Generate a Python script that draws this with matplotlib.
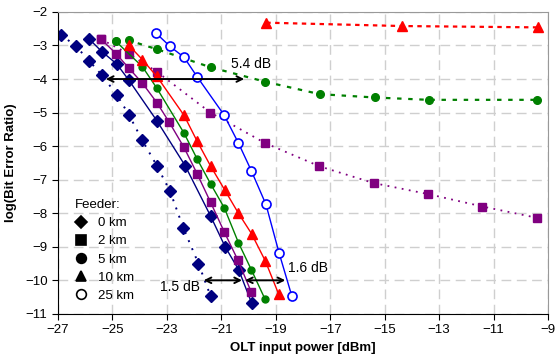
import numpy as np
import matplotlib.pyplot as plt
from matplotlib.lines import Line2D

plt.rcParams['font.family'] = ['Liberation Sans', 'DejaVu Sans']

# solid curves (feeder lengths)
x0 = [-25.85, -25.39, -24.84, -24.39, -23.37, -22.33, -21.39, -20.86, -20.36, -19.89]
y0 = [-2.81, -3.18, -3.55, -4.04, -5.24, -6.58, -8.09, -9.0, -9.69, -10.67]
x2 = [-25.42, -24.87, -24.39, -23.90, -23.37, -22.91, -22.37, -21.89, -21.39, -20.89, -20.39, -19.90]
y2 = [-2.81, -3.24, -3.68, -4.12, -4.70, -5.29, -6.04, -6.82, -7.68, -8.56, -9.40, -10.35]
x5 = [-24.87, -23.90, -23.37, -22.37, -21.89, -21.39, -20.89, -20.37, -19.90, -19.39]
y5 = [-2.88, -3.63, -4.27, -5.61, -6.38, -7.13, -7.84, -8.88, -9.68, -10.57]
x10 = [-24.39, -23.90, -23.37, -22.37, -21.89, -21.39, -20.88, -20.38, -19.89, -19.38, -18.89]
y10 = [-3.00, -3.42, -3.92, -5.08, -5.85, -6.60, -7.30, -7.99, -8.61, -9.43, -10.42]
x25 = [-23.40, -22.88, -22.37, -21.89, -20.90, -20.37, -19.90, -19.36, -18.88, -18.41]
y25 = [-2.63, -3.03, -3.35, -3.93, -5.07, -5.91, -6.73, -7.74, -9.18, -10.47]

# dotted curves
x0d = [-26.89, -26.35, -25.86, -25.39, -24.84, -24.39, -23.90, -23.37, -22.88, -22.39, -21.84, -21.39]
y0d = [-2.68, -3.01, -3.45, -3.88, -4.47, -5.07, -5.83, -6.58, -7.35, -8.45, -9.50, -10.48]
x2d = [-25.43, -24.39, -23.37, -21.40, -19.39, -17.40, -15.41, -13.40, -11.41, -9.39]
y2d = [-2.81, -3.25, -3.78, -5.00, -5.91, -6.60, -7.10, -7.43, -7.80, -8.14]
x5d = [-24.87, -24.39, -23.37, -21.39, -19.39, -17.39, -15.37, -13.39, -9.39]
y5d = [-2.88, -2.85, -3.11, -3.65, -4.08, -4.45, -4.55, -4.62, -4.62]
x10d = [-19.35, -14.36, -9.38]
y10d = [-2.32, -2.42, -2.46]

fig = plt.figure(figsize=(5.57, 3.62), dpi=100)
ax = fig.add_axes([0.104, 0.133, 0.88, 0.834])

ax.plot(x0d, y0d, color='#000080', ls=(0, (1, 3.5)), lw=1.4, marker='D', ms=6)
ax.plot(x2d, y2d, color='#800080', ls=(0, (1, 3)), lw=1.3, marker='s', ms=5.5)
ax.plot(x5d, y5d, color='#008000', ls=(0, (2, 3)), lw=1.6, marker='o', ms=5.5)
ax.plot(x10d, y10d, color='#FF0000', ls=(0, (2, 2)), lw=1.6, marker='^', ms=6.5)

ax.plot(x0, y0, color='#000080', lw=1, marker='D', ms=6)
ax.plot(x2, y2, color='#800080', lw=1, marker='s', ms=5.5)
ax.plot(x5, y5, color='#008000', lw=1, marker='o', ms=5)
ax.plot(x10, y10, color='#FF0000', lw=1, marker='^', ms=6.5)
ax.plot(x25, y25, color='#0000FF', lw=1, marker='o', ms=6.5, mfc='white', mew=1.2)

arr = dict(arrowstyle='<->', color='black', lw=1.4, shrinkA=0, shrinkB=0)
ax.annotate('', xy=(-25.24, -4.0), xytext=(-20.16, -4.0), arrowprops=arr)
ax.annotate('', xy=(-21.65, -10.0), xytext=(-20.24, -10.0), arrowprops=arr)
ax.annotate('', xy=(-20.13, -10.0), xytext=(-18.65, -10.0), arrowprops=arr)
ax.text(-19.9, -3.55, '5.4 dB', fontsize=10, ha='center', va='center')
ax.text(-22.5, -10.2, '1.5 dB', fontsize=10, ha='center', va='center')
ax.text(-17.8, -9.62, '1.6 dB', fontsize=10, ha='center', va='center')

ax.set_xlim(-27, -9)
ax.set_ylim(-11, -2)
ax.set_xticks(np.arange(-27, -8, 2))
ax.set_yticks(np.arange(-11, -1, 1))
ax.grid(True, color='#cfcfcf', ls=(0, (7, 4)), lw=1)
ax.tick_params(labelsize=9.5, direction='out', length=4)
for s in ['top', 'right']:
    ax.spines[s].set_color('#999999')
ax.set_xlabel('OLT input power [dBm]', fontsize=9.5, fontweight='bold')
ax.set_ylabel('log(Bit Error Ratio)', fontsize=9.5, fontweight='bold', labelpad=6)

handles = [Line2D([], [], color='black', ls='none', marker=m, ms=s, mfc=f, mew=1.2)
           for m, s, f in [('D', 6.5, 'black'), ('s', 6.5, 'black'), ('o', 7, 'black'),
                           ('^', 7.5, 'black'), ('o', 7, 'white')]]
labels = ['0 km', '2 km', '5 km', '10 km', '25 km']
leg = ax.legend(handles, labels, title='Feeder:', loc='lower left', bbox_to_anchor=(0.01, 0.0),
                frameon=False, fontsize=9.5, title_fontsize=9.5, handlelength=1,
                handletextpad=0.8, labelspacing=0.45)
leg._legend_box.align = 'left'

fig.savefig('out.png', dpi=100)
